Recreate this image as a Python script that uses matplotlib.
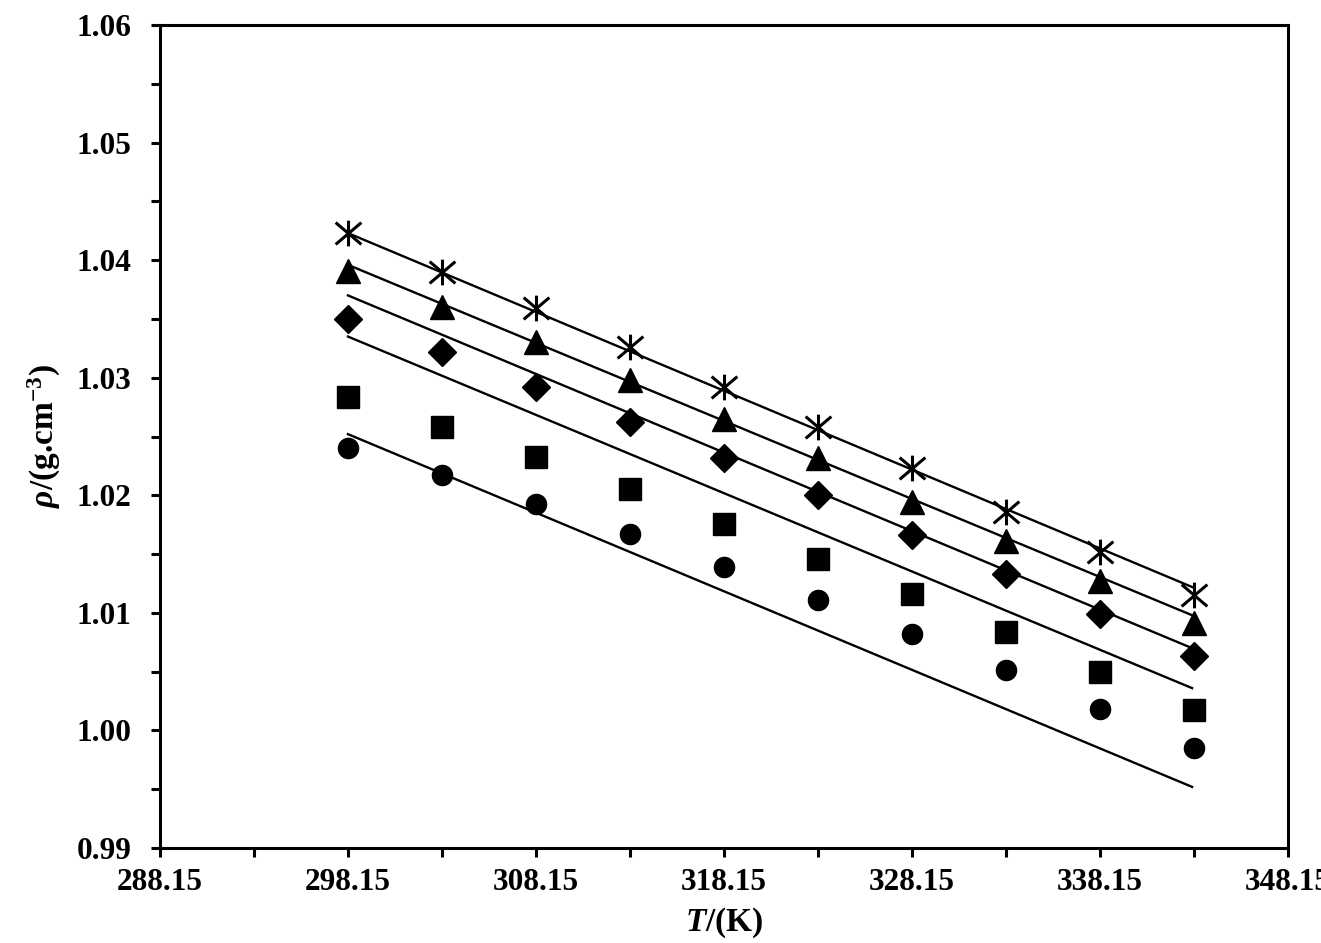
import matplotlib
matplotlib.use('Agg')
import matplotlib.pyplot as plt
from matplotlib.path import Path
from matplotlib.ticker import MultipleLocator, FormatStrFormatter

# temperatures (K) of the measured points
temps = [298.15, 303.15, 308.15, 313.15, 318.15, 323.15, 328.15, 333.15, 338.15, 343.15]

# measured densities (g/cm3) for each series
rho_star = [1.0423, 1.0390, 1.0359, 1.0326, 1.0292, 1.0258, 1.0223, 1.0186, 1.0152, 1.0115]
rho_tri = [1.0391, 1.0360, 1.0330, 1.0298, 1.0265, 1.0232, 1.0194, 1.0161, 1.0127, 1.0091]
rho_dia = [1.0350, 1.0322, 1.0292, 1.0262, 1.0232, 1.0200, 1.0166, 1.0133, 1.0099, 1.0063]
rho_sq = [1.0284, 1.0258, 1.0233, 1.0205, 1.0176, 1.0146, 1.0116, 1.0084, 1.0050, 1.0017]
rho_circ = [1.0240, 1.0217, 1.0193, 1.0167, 1.0139, 1.0111, 1.0082, 1.0051, 1.0018, 0.9985]

# straight model lines, start and end values
fit_temps = [298.15, 343.05]
fit_1 = [1.0423, 1.0122]
fit_2 = [1.0396, 1.0098]
fit_3 = [1.0370, 1.0070]
fit_4 = [1.0335, 1.0036]
fit_5 = [1.0252, 0.9952]

plt.rcParams['font.family'] = ['Liberation Serif', 'DejaVu Serif']
plt.rcParams['font.weight'] = 'bold'
plt.rcParams['mathtext.fontset'] = 'custom'
plt.rcParams['mathtext.rm'] = 'Liberation Serif:bold'
plt.rcParams['mathtext.it'] = 'Liberation Serif:italic:bold'
plt.rcParams['mathtext.bf'] = 'Liberation Serif:bold'

# asterisk marker: an X with a vertical bar through it
star = Path([(0, -1), (0, 1), (-1, -0.85), (1, 0.85), (-1, 0.85), (1, -0.85)],
            [Path.MOVETO, Path.LINETO, Path.MOVETO, Path.LINETO, Path.MOVETO, Path.LINETO])

fig = plt.figure(figsize=(13.21, 9.43), dpi=100)
ax = fig.add_axes([0.1211, 0.1007, 0.8539, 0.8728])

for fit in [fit_1, fit_2, fit_3, fit_4, fit_5]:
    ax.plot(fit_temps, fit, color='black', linewidth=1.7, zorder=2)

ax.plot(temps, rho_star, linestyle='none', marker=star, markersize=18.5,
        markeredgewidth=2.2, color='black', zorder=3)
ax.plot(temps, rho_tri, linestyle='none', marker='^', markersize=17, color='black', zorder=3)
ax.plot(temps, rho_dia, linestyle='none', marker='D', markersize=14, color='black', zorder=3)
ax.plot(temps, rho_sq, linestyle='none', marker='s', markersize=16, color='black', zorder=3)
ax.plot(temps, rho_circ, linestyle='none', marker='o', markersize=14.5, color='black', zorder=3)

ax.set_xlim(288.15, 348.15)
ax.set_ylim(0.99, 1.06)
ax.xaxis.set_major_locator(MultipleLocator(10, offset=8.15))
ax.xaxis.set_minor_locator(MultipleLocator(5, offset=3.15))
ax.yaxis.set_major_locator(MultipleLocator(0.01))
ax.yaxis.set_minor_locator(MultipleLocator(0.005))
ax.xaxis.set_major_formatter(FormatStrFormatter('%.2f'))
ax.yaxis.set_major_formatter(FormatStrFormatter('%.2f'))

for side in ax.spines.values():
    side.set_linewidth(2.2)

ax.tick_params(axis='both', which='both', direction='out', width=2.2, length=6.5, labelsize=22.5)
ax.tick_params(axis='y', which='major', pad=14)
ax.tick_params(axis='x', which='major', pad=8)

ax.set_xlabel(r'$T$/(K)', fontsize=24, fontweight='bold', labelpad=6)
ax.set_ylabel(r'$\rho$/(g.cm$^{-3}$)', fontsize=24, fontweight='bold', labelpad=10)

fig.savefig('out.png', dpi=100)
